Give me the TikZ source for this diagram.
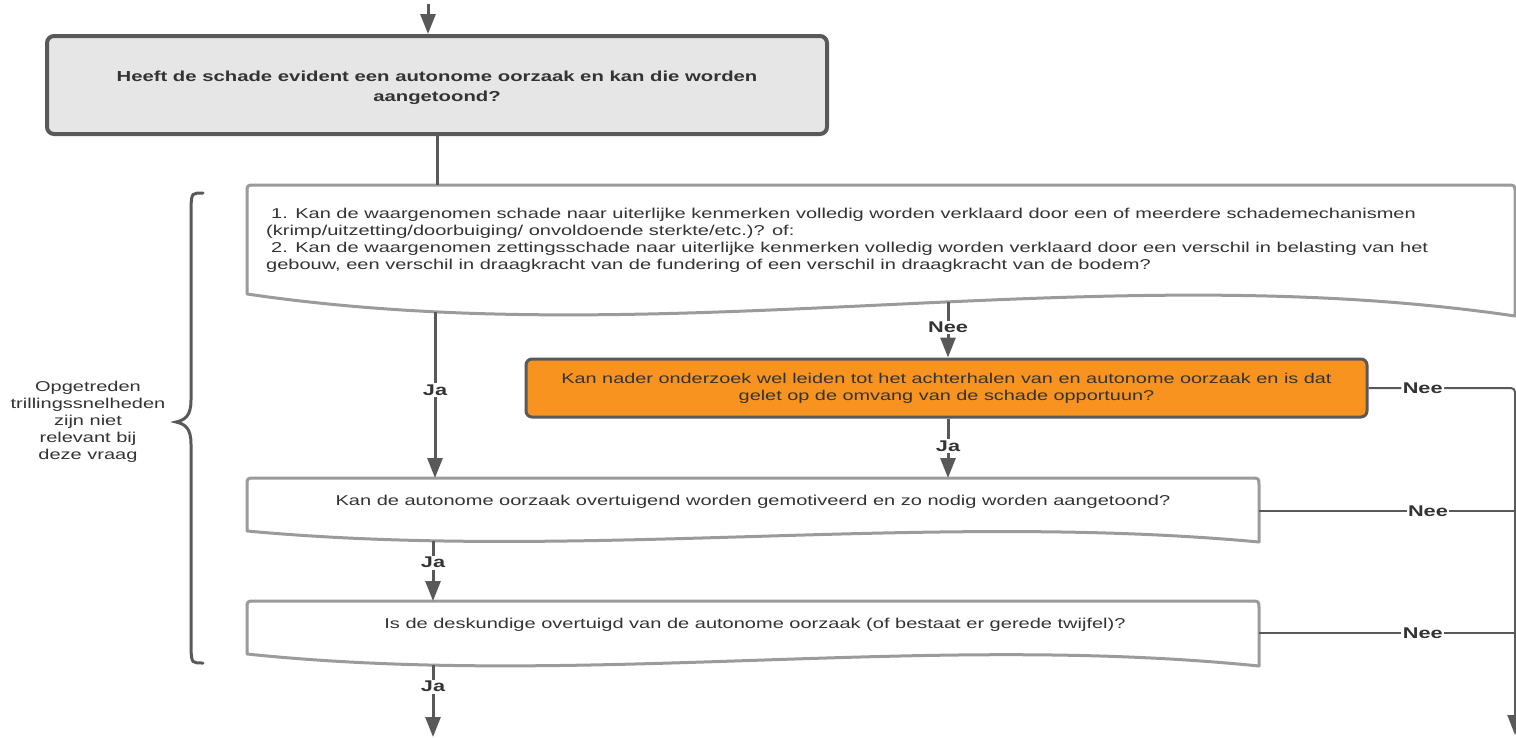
\documentclass[tikz,border=0pt]{standalone}
\usepackage{fontspec}
\setmainfont{Liberation Sans}[FakeStretch=1.4]
\usetikzlibrary{arrows.meta}

\definecolor{lijn}{HTML}{595959}
\definecolor{lichtlijn}{HTML}{9B9B9B}
\definecolor{grijs}{HTML}{E6E6E6}
\definecolor{oranje}{HTML}{F7931E}
\definecolor{tekst}{HTML}{333333}

\tikzset{
  beginvak/.style={draw=lijn, line width=4pt, fill=grijs, rounded corners=7pt, minimum width=780pt, minimum height=98pt, align=center, text=tekst, font=\bfseries\fontsize{14.5}{20}\selectfont},
  oranjevak/.style={draw=lijn, line width=3pt, fill=oranje, rounded corners=6pt, minimum width=841pt, minimum height=58pt, align=center, text=tekst, font=\fontsize{14.2}{17}\selectfont},
  docvorm/.style={draw=lichtlijn, line width=3pt, fill=white, line join=round},
  doctekst/.style={inner sep=0pt, text=tekst, font=\fontsize{14.3}{17}\selectfont},
  pijl/.style={draw=lijn, line width=3pt, -{Triangle[length=20pt,width=15pt]}},
  verbind/.style={draw=lijn, line width=3pt},
  neelijn/.style={draw=lijn, line width=2pt},
  antw/.style={fill=white, inner sep=1.5pt, text=tekst, font=\bfseries\fontsize{15.5}{18}\selectfont}
}

\begin{document}
\begin{tikzpicture}[x=1pt,y=-1pt]
\useasboundingbox (0,0) rectangle (1516,737);
% document vormen
\draw[docvorm] (247,294) -- (247,193) .. controls (247,185) .. (255,185) -- (1507,185) .. controls (1515,185) .. (1515,193) -- (1515,316) .. controls (1092,254) and (670,356) .. (247,294) -- cycle;
\draw[docvorm] (247,531) -- (247,486) .. controls (247,478) .. (255,478) -- (1251,478) .. controls (1259,478) .. (1259,486) -- (1259,542) .. controls (922,511) and (584,562) .. (247,531) -- cycle;
\draw[docvorm] (247,654) -- (247,609) .. controls (247,601) .. (255,601) -- (1251,601) .. controls (1259,601) .. (1259,609) -- (1259,666) .. controls (922,632) and (584,689) .. (247,654) -- cycle;

% vragen
\node[beginvak, text height=37pt] (start) at (437,85) {Heeft de schade evident een autonome oorzaak en kan die worden\\aangetoond?};
\node[doctekst, anchor=west, align=left] (q1) at (266,240) {\hspace*{5pt}1. Kan de waargenomen schade naar uiterlijke kenmerken volledig worden verklaard door een of meerdere schademechanismen\\(krimp/uitzetting/doorbuiging/ onvoldoende sterkte/etc.)? of:\\\hspace*{5pt}2. Kan de waargenomen zettingsschade naar uiterlijke kenmerken volledig worden verklaard door een verschil in belasting van het\\gebouw, een verschil in draagkracht van de fundering of een verschil in draagkracht van de bodem?};
\node[oranjevak] (onderzoek) at (946.5,388) {Kan nader onderzoek wel leiden tot het achterhalen van en autonome oorzaak en is dat\\gelet op de omvang van de schade opportuun?};
\node[doctekst] (q2) at (753,502) {Kan de autonome oorzaak overtuigend worden gemotiveerd en zo nodig worden aangetoond?};
\node[doctekst] (q3) at (755,625) {Is de deskundige overtuigd van de autonome oorzaak (of bestaat er gerede twijfel)?};
\node[doctekst, align=center] (noot) at (88,421.5) {Opgetreden\\trillingssnelheden\\zijn niet\\relevant bij\\deze vraag};

% accolade
\draw[verbind, line cap=round] (203,193) .. controls (192,193) .. (191,205) -- (191,400) .. controls (191,416) and (185,420) .. (176,422) .. controls (185,424) and (191,428) .. (191,444) -- (191,651) .. controls (192,663) .. (203,663);

\coordinate (in) at (428,4);
\coordinate (q1top) at (437,185);
\coordinate (q1ja) at (435,312);
\coordinate (q1nee) at (948,302);
\coordinate (q2links) at (435,478);
\coordinate (q2midden) at (948,478);
\coordinate (q2ja) at (433,541);
\coordinate (q3top) at (433,601);
\coordinate (q3ja) at (433,665);
\coordinate (q2r) at (1259,511);
\coordinate (q3r) at (1259,633);
\coordinate (rechts) at (1515,388);
\coordinate (rechtsuit) at (1515,735);
\coordinate (uit) at (433,737);

% verbindingen
\draw[pijl] (in) -- (in |- start.north);
\draw[verbind] (start.south) -- (q1top);
\draw[pijl] (q1ja) -- node[antw, pos=.47]{Ja} (q2links);
\draw[pijl] (q1nee) -- node[antw, pos=.46]{Nee} (q1nee |- onderzoek.north);
\draw[pijl] (onderzoek.south -| q1nee) -- node[antw, pos=.46]{Ja} (q2midden);
\draw[pijl, neelijn, rounded corners=4pt] (onderzoek.east) -- node[antw, pos=.37]{Nee} (rechts) -- (rechtsuit);
\draw[neelijn] (q2r) -- node[antw, pos=.66]{Nee} (q2r -| rechts);
\draw[neelijn] (q3r) -- node[antw, pos=.64]{Nee} (q3r -| rechts);
\draw[pijl] (q2ja) -- node[antw, pos=.36]{Ja} (q3top);
\draw[pijl] (q3ja) -- node[antw, pos=.3]{Ja} (uit);
\end{tikzpicture}
\end{document}
